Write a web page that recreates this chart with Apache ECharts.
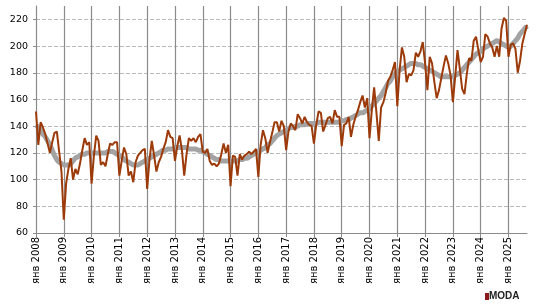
<!DOCTYPE html>
<html>
<head>
<meta charset="utf-8">
<script src="https://cdn.jsdelivr.net/npm/echarts@6/dist/echarts.min.js"></script>
<style>
  html, body { margin: 0; padding: 0; background: #fff; }
  #chart { width: 547px; height: 305px; }
</style>
</head>
<body>
<div id="chart"></div>
<script>
  // подписи оси X: месяц + год
  const years = [2008, 2009, 2010, 2011, 2012, 2013, 2014, 2015, 2016, 2017, 2018, 2019, 2020, 2021, 2022, 2023, 2024, 2025];
  const monthNames = ['янв', 'фев', 'мар', 'апр', 'май', 'июн', 'июл', 'авг', 'сен', 'окт', 'ноя', 'дек'];

  // помесячные значения (коричневая линия)
  const monthly = [
    151, 126, 143, 139, 134, 127, 120, 128, 135, 136, 121, 106,
    70, 97, 108, 116, 100, 108, 104, 112, 122, 131, 126, 128,
    97, 118, 133, 129, 111, 113, 110, 119, 127, 126, 128, 128,
    103, 114, 124, 119, 103, 106, 98, 113, 118, 120, 122, 123,
    93, 115, 129, 118, 106, 113, 117, 123, 128, 137, 132, 131,
    114, 125, 133, 122, 103, 119, 131, 129, 131, 128, 132, 134,
    121, 120, 123, 114, 111, 112, 110, 112, 119, 127, 120, 126,
    95, 118, 117, 103, 119, 115, 118, 119, 121, 119, 121, 123,
    102, 126, 137, 131, 120, 128, 135, 143, 143, 136, 144, 140,
    122, 136, 142, 140, 137, 149, 146, 142, 147, 143, 141, 140,
    127, 141, 151, 150, 136, 141, 146, 147, 142, 152, 147, 147,
    125, 141, 142, 147, 132, 141, 147, 152, 158, 163, 154, 161,
    131, 152, 169, 150, 129, 154, 158, 165, 174, 177, 182, 188,
    155, 182, 199, 192, 173, 179, 178, 182, 195, 192, 196, 203,
    187, 167, 192, 187, 173, 161, 167, 176, 185, 193, 187, 178,
    158, 177, 197, 183, 168, 164, 179, 191, 189, 204, 207, 197,
    188, 192, 209, 207, 202, 199, 192, 200, 192, 213, 221, 219,
    192, 201, 202, 198, 180, 189, 202, 209, 216
  ];

  // тренд (серая линия)
  const trend = [
    141, 139, 137, 134, 132, 129, 126, 122, 118, 115, 113, 112,
    111, 111, 111, 112, 114, 116, 117, 118, 119, 119, 120, 120,
    120, 120, 120, 120, 120, 120, 120, 121, 121, 121, 120, 119,
    118, 117, 115, 114, 113, 112, 111, 111, 111, 112, 113, 114,
    115, 116, 117, 118, 119, 120, 121, 122, 122, 123, 123, 123,
    124, 124, 124, 124, 124, 124, 123, 123, 123, 123, 122, 122,
    121, 120, 119, 118, 117, 116, 115, 115, 114, 114, 114, 114,
    114, 114, 114, 114, 115, 115, 116, 116, 117, 118, 119, 120,
    121, 122, 123, 124, 126, 127, 129, 131, 133, 134, 135, 136,
    137, 138, 139, 139, 140, 140, 141, 141, 141, 142, 142, 142,
    142, 142, 143, 143, 143, 143, 143, 143, 143, 143, 143, 143,
    144, 144, 145, 145, 146, 147, 148, 149, 150, 150, 151, 152,
    153, 155, 157, 159, 161, 163, 166, 169, 172, 174, 177, 179,
    181, 182, 183, 184, 185, 186, 187, 187, 187, 186, 186, 185,
    184, 183, 182, 181, 180, 179, 178, 177, 177, 177, 177, 177,
    177, 178, 179, 180, 182, 184, 186, 188, 190, 192, 194, 195,
    196, 198, 199, 200, 201, 202, 203, 204, 203, 202, 201, 200,
    199, 200, 202, 204, 206, 209, 211, 213, 215
  ];

  let categories = [];
  years.forEach(function (y) {
    monthNames.forEach(function (m) {
      if (categories.length < monthly.length) categories.push(m + ' ' + y);
    });
  });

  // горизонтальные линии: 60..220 видимые, верхняя граница 230 скрыта
  let splitColors = [];
  for (let i = 0; i < 9; i++) splitColors.push('#b9b9b9');
  splitColors.push('rgba(0,0,0,0)');

  const chart = echarts.init(document.getElementById('chart'));
  chart.setOption({
    animation: false,
    grid: {left: 36, right: 20, top: 6, bottom: 72},
    xAxis: {
      type: 'category',
      data: categories,
      boundaryGap: false,
      axisLine: {lineStyle: {color: '#8a8a8a', width: 1}},
      axisTick: {interval: 11, length: 4, lineStyle: {color: '#8a8a8a'}},
      splitLine: {show: true, interval: 11, lineStyle: {color: '#8a8a8a', width: 1.2}},
      axisLabel: {
        interval: 11,
        rotate: 90,
        margin: 4,
        padding: [5, 0, 0, 0],
        color: '#000',
        fontFamily: 'DejaVu Sans',
        fontSize: 10
      }
    },
    yAxis: {
      type: 'value',
      min: 60,
      max: 230,
      interval: 20,
      axisLine: {show: true, lineStyle: {color: '#8a8a8a'}},
      axisTick: {show: true, length: 3, lineStyle: {color: '#8a8a8a'}},
      splitLine: {lineStyle: {color: splitColors, type: [4, 2], width: 1}},
      axisLabel: {
        showMaxLabel: false,
        margin: 8,
        color: '#000',
        fontFamily: 'DejaVu Sans',
        fontSize: 9.5
      }
    },
    series: [
      {
        name: 'тренд',
        type: 'line',
        data: trend,
        smooth: true,
        symbol: 'none',
        lineStyle: {color: '#a3a3a3', width: 5},
        z: 2
      },
      {
        name: 'месяц',
        type: 'line',
        data: monthly,
        symbol: 'none',
        lineStyle: {color: '#9c3a0a', width: 2},
        z: 3
      }
    ],
    graphic: [
      {type: 'rect', left: 485, top: 293, shape: {width: 4, height: 7}, style: {fill: '#8b1a1a'}},
      {
        type: 'text', left: 489, top: 291,
        style: {text: 'MODA', fill: '#222', font: '900 10px "Liberation Sans"'}
      }
    ]
  });
</script>
</body>
</html>
